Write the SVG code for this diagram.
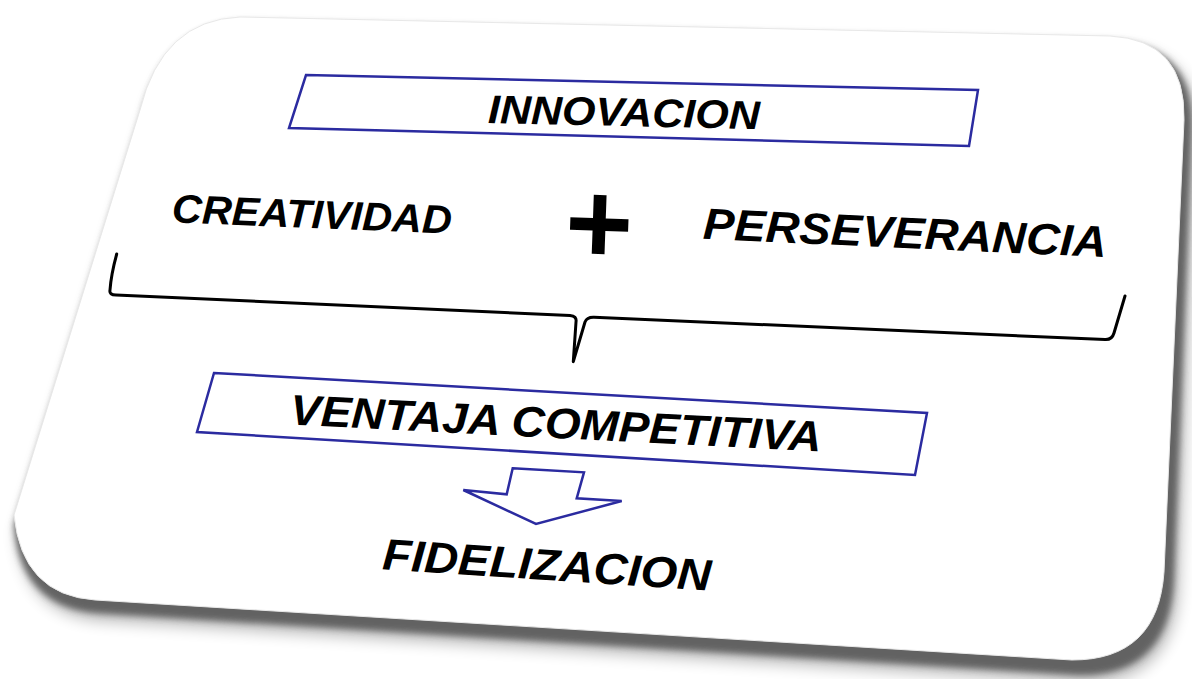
<svg xmlns="http://www.w3.org/2000/svg" width="1192" height="679" viewBox="0 0 1192 679">
<defs>
<style>
.t{font-family:"Liberation Sans",Arial,sans-serif;font-weight:bold;font-style:italic;fill:#000;text-anchor:middle}
.box{fill:#fff;stroke:#2b2ba0;stroke-width:2.5;stroke-linejoin:miter}
.br{fill:none;stroke:#000;stroke-width:3;stroke-linejoin:round;stroke-linecap:round}
</style>
<filter id="sh" x="-10%" y="-10%" width="120%" height="130%">
<feGaussianBlur stdDeviation="8"/>
</filter>
<filter id="sh2" x="-10%" y="-10%" width="120%" height="130%">
<feGaussianBlur stdDeviation="3"/>
</filter>
</defs>
<rect width="1192" height="679" fill="#fff"/>
<g id="card">
<path d="M240,17 L1110,36 Q1192,40 1190,122 L1172,575 Q1167,672 1075,670 L95,608 Q18,602 12,520 L140,110 Q162,20 240,17 Z" fill="#000" opacity="0.3" filter="url(#sh)" transform="translate(6,12)"/>
<path d="M240,17 L1110,36 Q1192,40 1190,122 L1172,575 Q1167,672 1075,670 L95,608 Q18,602 12,520 L140,110 Q162,20 240,17 Z" fill="#555" opacity="0.85" filter="url(#sh2)" transform="translate(2,5)"/>
<path d="M240,17 L1110,36 Q1186,40 1184,120 L1164,572 Q1158,660 1072,660 L95,600 Q22,595 14,515 L140,110 Q162,20 240,17 Z" fill="#fff" stroke="#e8e8e8" stroke-width="1"/>
</g>
<g id="innovacion">
<path class="box" d="M306,75 L978,90 L969,146 L289,128 Z"/>
<text class="t" x="624" y="126" font-size="40" textLength="272" lengthAdjust="spacingAndGlyphs" transform="rotate(1.3 624 112)">INNOVACION</text>
</g>
<g id="creatividad">
<text class="t" x="312" y="228" font-size="40" textLength="280" lengthAdjust="spacingAndGlyphs" transform="rotate(2.3 312 214)">CREATIVIDAD</text>
</g>
<g id="plus">
<text class="t" x="597" y="263" font-size="116" font-style="normal" transform="rotate(2 597 222)">+</text>
</g>
<g id="perseverancia">
<text class="t" x="905" y="248" font-size="44" textLength="404" lengthAdjust="spacingAndGlyphs" transform="rotate(2.6 905 233)">PERSEVERANCIA</text>
</g>
<g id="ventaja">
<path class="box" d="M214,373 L927,413 L915,475 L197,432 Z"/>
<text class="t" x="556" y="438" font-size="43" textLength="532" lengthAdjust="spacingAndGlyphs" transform="rotate(2.9 556 423)">VENTAJA COMPETITIVA</text>
</g>
<g id="fidelizacion">
<text class="t" x="547" y="580" font-size="44" textLength="329" lengthAdjust="spacingAndGlyphs" transform="rotate(3.7 547 564)">FIDELIZACION</text>
</g>
<g id="connectors">
<path class="br" d="M116.7,254 Q111,275 110,290 Q109,295 116,295 L570,315.5 Q577,316 576,322 L573.3,361.7 L585,322 Q587,317 594,317.3 L1105,339.5 Q1112,340 1114,333 L1125,296"/>
<path d="M512.7,468.3 L584,472.3 L576.7,498.3 L621.7,501 L536,524 L463.3,490 L506.7,494.3 Z" fill="#fff" stroke="#2b2ba0" stroke-width="2.5" stroke-linejoin="miter"/>
</g>
</svg>
